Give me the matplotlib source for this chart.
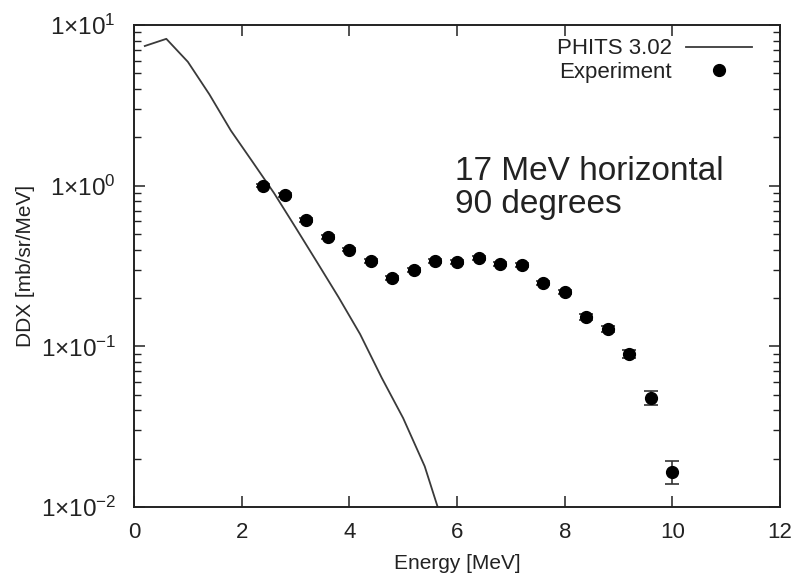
import matplotlib
matplotlib.use('Agg')
import matplotlib.pyplot as plt
from matplotlib.ticker import FixedLocator, LogLocator, FuncFormatter, NullFormatter
import math

# PHITS 3.02 calculation (polyline)
phits_e = [0.2, 0.6, 1.0, 1.4, 1.8, 2.2, 2.6, 3.0, 3.4, 3.8, 4.2, 4.6, 5.0, 5.4, 5.8]
phits_ddx = [7.4, 8.2, 5.9, 3.7, 2.2, 1.41, 0.90, 0.55, 0.334, 0.202, 0.119,
             0.0638, 0.0357, 0.0179, 0.0068]

# experiment
exp_e = [2.4, 2.8, 3.2, 3.6, 4.0, 4.4, 4.8, 5.2, 5.6, 6.0,
         6.4, 6.8, 7.2, 7.6, 8.0, 8.4, 8.8, 9.2, 9.6, 10.0]
exp_ddx = [1.0, 0.875, 0.61, 0.48, 0.40, 0.34, 0.267, 0.30, 0.34, 0.335,
           0.355, 0.326, 0.32, 0.248, 0.218, 0.152, 0.128, 0.0897, 0.0478, 0.0166]
exp_err_lo = [0.02, 0.02, 0.015, 0.012, 0.01, 0.009, 0.008, 0.008, 0.009, 0.009,
              0.009, 0.009, 0.009, 0.008, 0.007, 0.006, 0.006, 0.005, 0.0045, 0.0026]
exp_err_hi = [0.02, 0.02, 0.015, 0.012, 0.01, 0.009, 0.008, 0.008, 0.009, 0.009,
              0.009, 0.009, 0.009, 0.008, 0.007, 0.006, 0.006, 0.005, 0.0048, 0.0026]

plt.rcParams['font.family'] = ['Liberation Sans', 'DejaVu Sans']
plt.rcParams['mathtext.fontset'] = 'custom'
plt.rcParams['mathtext.rm'] = 'Liberation Sans'
plt.rcParams['mathtext.it'] = 'Liberation Sans:italic'

fig = plt.figure(figsize=(8.02, 5.80), dpi=100)
ax = fig.add_axes([0.1671, 0.1259, 0.8055, 0.831])

ax.plot(phits_e, phits_ddx, color='#3a3a3a', lw=1.3, label='PHITS 3.02')
ax.errorbar(exp_e, exp_ddx, yerr=[exp_err_lo, exp_err_hi], fmt='none',
            ecolor='#333333', elinewidth=1.2, capsize=5, capthick=1.2)
ax.plot(exp_e, exp_ddx, 'o', color='black', ms=8.5, label='Experiment')

ax.set_yscale('log')
ax.set_xlim(0, 12)
ax.set_ylim(0.01, 10)

ax.xaxis.set_major_locator(FixedLocator([0, 2, 4, 6, 8, 10, 12]))
ax.yaxis.set_major_locator(LogLocator(base=10, numticks=10))
ax.yaxis.set_minor_locator(LogLocator(base=10, subs=range(2, 10), numticks=20))
ax.yaxis.set_minor_formatter(NullFormatter())


def sci_fmt(v, pos):
    p = int(round(math.log10(v)))
    return r'$\mathregular{1{\times}10^{%d}}$' % p


ax.yaxis.set_major_formatter(FuncFormatter(sci_fmt))

ax.tick_params(which='both', direction='in', top=True, right=True, colors='#222222')
ax.tick_params(which='major', length=8, width=1.1)
ax.tick_params(which='minor', length=5, width=1.0)
ax.tick_params(axis='x', which='major', labelsize=16, pad=11)
ax.tick_params(axis='y', which='major', labelsize=17.5, pad=13)
for s in ax.spines.values():
    s.set_linewidth(1.4)
    s.set_color('#222222')

ax.set_xlabel('Energy [MeV]', fontsize=15, color='#222222', labelpad=8)
ax.set_ylabel('DDX [mb/sr/MeV]', fontsize=15, color='#222222', labelpad=4)

ax.text(0.497, 0.728, '17 MeV horizontal\n90 degrees', transform=ax.transAxes,
        fontsize=24, va='top', ha='left', linespacing=1.1, color='#222222')

leg = ax.legend(loc='upper right', bbox_to_anchor=(0.957, 0.972), frameon=False,
                markerfirst=False, fontsize=16, labelspacing=0.1, handlelength=3.0,
                handletextpad=0.6, borderpad=0, borderaxespad=0)
for t in leg.get_texts():
    t.set_color('#222222')

fig.savefig('out.png', dpi=100)
